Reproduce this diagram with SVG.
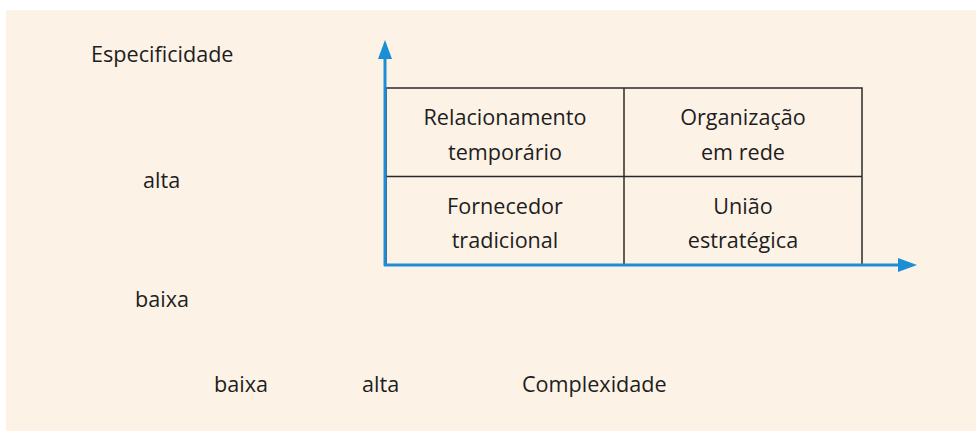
<svg xmlns="http://www.w3.org/2000/svg" width="976" height="431" viewBox="0 0 976 431">
<style>
text{font-family:"Open Sans","Liberation Sans",sans-serif;font-size:21.6px;fill:#1e1e1e}
.c{text-anchor:middle}
.grid{fill:none;stroke:#2a2a2a;stroke-width:1.5}
.ax{stroke:#1a8fd6;stroke-width:3;fill:none}
</style>
<defs>
<marker id="ah" markerWidth="20" markerHeight="14" refX="0" refY="7" orient="auto" markerUnits="userSpaceOnUse">
<path d="M0,0 L19,7 L0,14 Z" fill="#1a8fd6"/>
</marker>
</defs>
<rect x="6" y="10" width="970" height="421" fill="#fdf2e6"/>
<g id="labels">
<text x="91" y="62">Especificidade</text>
<text x="143" y="188">alta</text>
<text x="135" y="307">baixa</text>
<text x="214" y="392">baixa</text>
<text x="362" y="392">alta</text>
<text x="522" y="392">Complexidade</text>
</g>
<g id="grid">
<rect class="grid" x="386" y="88" width="476" height="177"/>
<line class="grid" x1="624" y1="88" x2="624" y2="265"/>
<line class="grid" x1="386" y1="176.5" x2="862" y2="176.5"/>
</g>
<g id="n1"><text class="c" x="505" y="125">Relacionamento</text><text class="c" x="505" y="160">temporário</text></g>
<g id="n2"><text class="c" x="743" y="125">Organização</text><text class="c" x="743" y="160">em rede</text></g>
<g id="n3"><text class="c" x="505" y="214">Fornecedor</text><text class="c" x="505" y="248">tradicional</text></g>
<g id="n4"><text class="c" x="743" y="214">União</text><text class="c" x="743" y="248">estratégica</text></g>
<g id="connectors">
<line class="ax" x1="385" y1="266" x2="385" y2="59" marker-end="url(#ah)"/>
<line class="ax" x1="384" y1="265" x2="898" y2="265" marker-end="url(#ah)"/>
</g>
</svg>
